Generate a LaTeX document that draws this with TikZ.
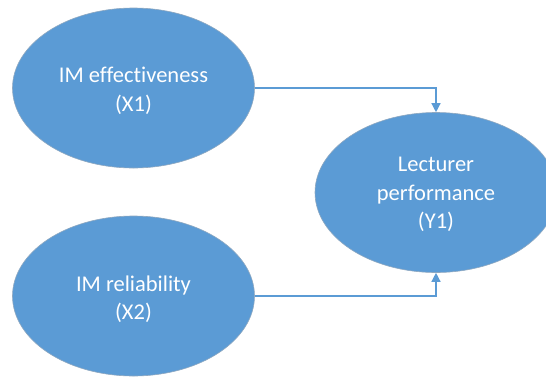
\documentclass[tikz,border=0pt]{standalone}
\usepackage{fontspec}
\setmainfont[Ligatures={NoCommon}]{Carlito}
\usetikzlibrary{shapes.geometric,arrows.meta}
\definecolor{oblue}{HTML}{5B9BD5}
\definecolor{oedge}{HTML}{8FA8C0}
\begin{document}
\begin{tikzpicture}[x=1pt,y=-1pt,
  blob/.style={ellipse,fill=oblue,draw=oedge,line width=0.6pt,minimum width=242pt,minimum height=160pt,inner sep=0pt},
  txt/.style={text=white,align=center,font=\fontsize{22.5}{28.5}\selectfont},
  conn/.style={draw=oblue,line width=1.3pt,-{Triangle[length=9pt,width=9pt]}}]
\useasboundingbox (0,0) rectangle (546,376);
\node[blob,label={[txt,yshift=-3pt]center:IM effectiveness\\(X1)}] (x1) at (133.5,88) {};
\node[blob,label={[txt,yshift=-3pt]center:IM reliability\\(X2)}] (x2) at (133.5,296) {};
\node[blob,label={[txt,yshift=-2pt]center:Lecturer\\performance\\(Y1)}] (y1) at (436,192.5) {};
\draw[conn] (x1.east) -| (y1.north);
\draw[conn] (x2.east) -| (y1.south);
\end{tikzpicture}
\end{document}
